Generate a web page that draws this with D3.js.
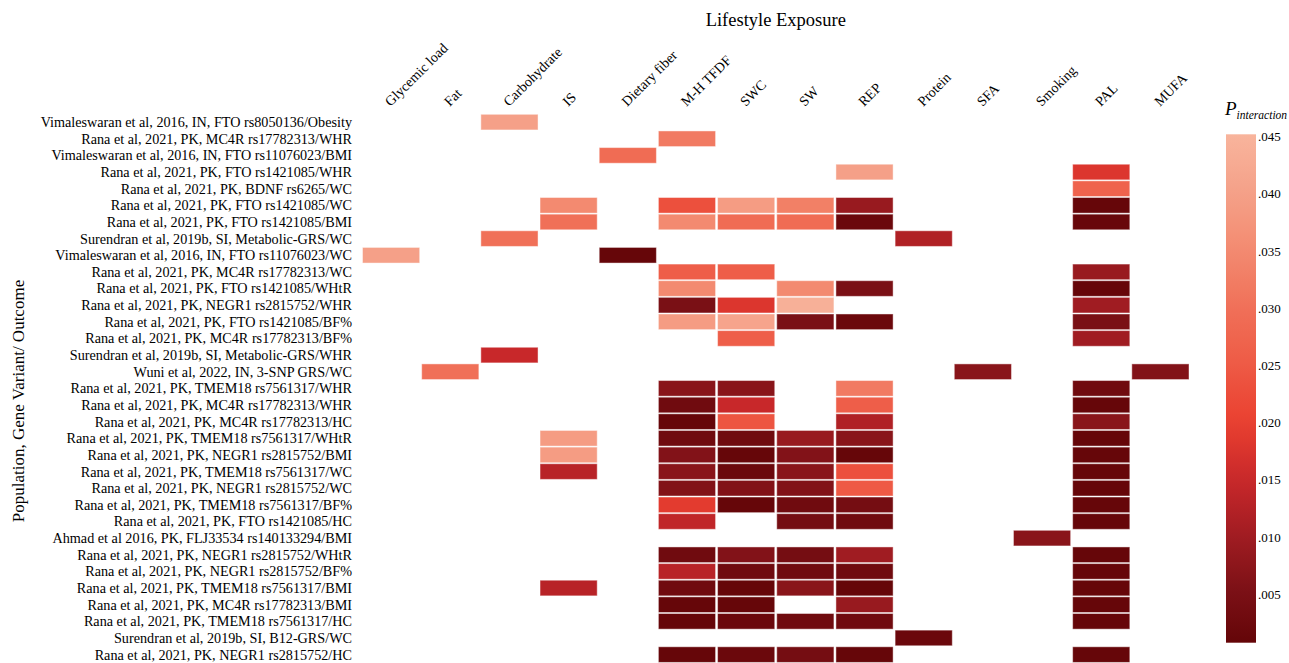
<!DOCTYPE html>
<html>
<head>
<meta charset="utf-8">
<script src="https://cdn.jsdelivr.net/npm/d3@7"></script>
<style>
  body { margin: 0; background: #fff; }
  svg { display: block; font-family: "Liberation Serif", "Times New Roman", serif; }
</style>
</head>
<body>
<svg id="chart" width="1289" height="663"></svg>
<script>
const _ = null;

const exposures = ["Glycemic load", "Fat", "Carbohydrate", "IS", "Dietary fiber", "M-H TFDF", "SWC",
  "SW", "REP", "Protein", "SFA", "Smoking", "PAL", "MUFA"];

const rowLabels = [
  "Vimaleswaran et al, 2016, IN, FTO rs8050136/Obesity",
  "Rana et al, 2021, PK, MC4R rs17782313/WHR",
  "Vimaleswaran et al, 2016, IN, FTO rs11076023/BMI",
  "Rana et al, 2021, PK, FTO rs1421085/WHR",
  "Rana et al, 2021, PK, BDNF rs6265/WC",
  "Rana et al, 2021, PK, FTO rs1421085/WC",
  "Rana et al, 2021, PK, FTO rs1421085/BMI",
  "Surendran et al, 2019b, SI, Metabolic-GRS/WC",
  "Vimaleswaran et al, 2016, IN, FTO rs11076023/WC",
  "Rana et al, 2021, PK, MC4R rs17782313/WC",
  "Rana et al, 2021, PK, FTO rs1421085/WHtR",
  "Rana et al, 2021, PK, NEGR1 rs2815752/WHR",
  "Rana et al, 2021, PK, FTO rs1421085/BF%",
  "Rana et al, 2021, PK, MC4R rs17782313/BF%",
  "Surendran et al, 2019b, SI, Metabolic-GRS/WHR",
  "Wuni et al, 2022, IN, 3-SNP GRS/WC",
  "Rana et al, 2021, PK, TMEM18 rs7561317/WHR",
  "Rana et al, 2021, PK, MC4R rs17782313/WHR",
  "Rana et al, 2021, PK, MC4R rs17782313/HC",
  "Rana et al, 2021, PK, TMEM18 rs7561317/WHtR",
  "Rana et al, 2021, PK, NEGR1 rs2815752/BMI",
  "Rana et al, 2021, PK, TMEM18 rs7561317/WC",
  "Rana et al, 2021, PK, NEGR1 rs2815752/WC",
  "Rana et al, 2021, PK, TMEM18 rs7561317/BF%",
  "Rana et al, 2021, PK, FTO rs1421085/HC",
  "Ahmad et al 2016, PK, FLJ33534 rs140133294/BMI",
  "Rana et al, 2021, PK, NEGR1 rs2815752/WHtR",
  "Rana et al, 2021, PK, NEGR1 rs2815752/BF%",
  "Rana et al, 2021, PK, TMEM18 rs7561317/BMI",
  "Rana et al, 2021, PK, MC4R rs17782313/BMI",
  "Rana et al, 2021, PK, TMEM18 rs7561317/HC",
  "Surendran et al, 2019b, SI, B12-GRS/WC",
  "Rana et al, 2021, PK, NEGR1 rs2815752/HC"
];

// P interaction per exposure column, one entry per row (null = not reported)
const glycemicLoad = [_,_,_,_,_,_,_,_,.040,_,_,  _,_,_,_,_,_,_,_,_,_,_,  _,_,_,_,_,_,_,_,_,_,_];
const fat          = [_,_,_,_,_,_,_,_,_,_,_,  _,_,_,_,.030,_,_,_,_,_,_,  _,_,_,_,_,_,_,_,_,_,_];
const carbohydrate = [.040,_,_,_,_,_,_,.030,_,_,_,  _,_,_,.015,_,_,_,_,_,_,_,  _,_,_,_,_,_,_,_,_,_,_];
const insulinSec   = [_,_,_,_,_,.035,.030,_,_,_,_,  _,_,_,_,_,_,_,_,.039,.039,.013,  _,_,_,_,_,_,.013,_,_,_,_];
const dietaryFiber = [_,_,.029,_,_,_,_,_,.001,_,_,  _,_,_,_,_,_,_,_,_,_,_,  _,_,_,_,_,_,_,_,_,_,_];
const mhTfdf       = [_,.032,_,_,_,.023,.035,_,_,.026,.035,  .005,.039,_,_,_,.007,.003,.001,.003,.006,.007,
                      .006,.019,.014,_,.003,.013,.003,.001,.001,_,.001];
const swc          = [_,_,_,_,_,.039,.029,_,_,.026,_,  .018,.041,.026,_,_,.007,.015,.024,.003,.001,.002,
                      .006,.001,_,_,.006,.003,.001,.001,.002,_,.002];
const sw           = [_,_,_,_,_,.033,.029,_,_,_,.035,  .044,.005,_,_,_,_,_,_,.009,.006,.007,
                      .006,.003,.004,_,.004,.003,.007,_,.003,_,.004];
const rep          = [_,_,_,.040,_,.009,.002,_,_,_,.005,  _,.002,_,_,_,.032,.026,.012,.007,.001,.023,
                      .025,.004,.003,_,.010,.003,.001,.009,.003,_,.001];
const protein      = [_,_,_,_,_,_,_,.012,_,_,_,  _,_,_,_,_,_,_,_,_,_,_,  _,_,_,_,_,_,_,_,_,.002,_];
const sfa          = [_,_,_,_,_,_,_,_,_,_,_,  _,_,_,_,.007,_,_,_,_,_,_,  _,_,_,_,_,_,_,_,_,_,_];
const smoking      = [_,_,_,_,_,_,_,_,_,_,_,  _,_,_,_,_,_,_,_,_,_,_,  _,_,_,.007,_,_,_,_,_,_,_];
const pal          = [_,_,_,.018,.027,.001,.0015,_,_,.009,.001,  .010,.005,.010,_,_,.003,.001,.007,.001,.001,.001,
                      .001,.001,.001,_,.001,.001,.001,.001,.001,_,.001];
const mufa         = [_,_,_,_,_,_,_,_,_,_,_,  _,_,_,_,.006,_,_,_,_,_,_,  _,_,_,_,_,_,_,_,_,_,_];

const columns = [glycemicLoad, fat, carbohydrate, insulinSec, dietaryFiber, mhTfdf, swc, sw, rep,
  protein, sfa, smoking, pal, mufa];

const legendTicks = [.045, .040, .035, .030, .025, .020, .015, .010, .005];

// flatten into cells
const cells = [];
columns.forEach((col, ci) => {
  col.forEach((p, ri) => {
    if (p != null) cells.push({ row: ri, col: exposures[ci], p: p });
  });
});

const svg = d3.select("#chart");

const x = d3.scaleBand()
  .domain(exposures)
  .range([361.5, 1190]);

const y = d3.scaleBand()
  .domain(d3.range(rowLabels.length))
  .range([113.8, 113.8 + rowLabels.length * 16.64]);

// colour ramp (light salmon -> dark red)
const color = d3.scaleLinear()
  .domain([.045, .040, .035, .030, .025, .020, .015, .010, .005, .0007])
  .range(["#f8b49c", "#f5a088", "#f38a70", "#f07058", "#ee5a45", "#ea4030", "#c8282a", "#a01c22", "#7a1015", "#640508"])
  .clamp(true);

// title
svg.append("text")
  .attr("x", (x.range()[0] + x.range()[1]) / 2)
  .attr("y", 26)
  .attr("text-anchor", "middle")
  .style("font-size", "18.5px")
  .text("Lifestyle Exposure");

svg.append("text")
  .attr("transform", "translate(24,401) rotate(-90)")
  .attr("text-anchor", "middle")
  .style("font-size", "17px")
  .text("Population, Gene Variant/ Outcome");

// column labels
svg.append("g")
  .selectAll("text")
  .data(exposures)
  .join("text")
    .attr("transform", d => `translate(${x(d) + x.bandwidth() / 2 - 0.5},107) rotate(-45)`)
    .style("font-size", "14px")
    .text(d => d);

// row labels
svg.append("g")
  .selectAll("text")
  .data(rowLabels)
  .join("text")
    .attr("x", 352)
    .attr("y", (d, i) => y(i) + y.bandwidth() / 2)
    .attr("dy", "0.35em")
    .attr("text-anchor", "end")
    .style("font-size", "14.2px")
    .text(d => d);

// heat cells
svg.append("g")
  .selectAll("rect")
  .data(cells)
  .join("rect")
    .attr("x", d => x(d.col) + 1)
    .attr("y", d => y(d.row) + 0.5)
    .attr("width", x.bandwidth() - 2)
    .attr("height", y.bandwidth() - 1)
    .attr("fill", d => color(d.p))
    .attr("stroke", "#fff")
    .attr("stroke-opacity", 0.45)
    .attr("stroke-width", 1);

// legend bar
const lg = d3.scaleLinear()
  .domain([.0452, .00075])
  .range([134.3, 642.7]);

const grad = svg.append("defs").append("linearGradient")
  .attr("id", "pgrad")
  .attr("x1", 0).attr("y1", 0).attr("x2", 0).attr("y2", 1);

d3.range(0, 1.0001, 0.05).forEach(t => {
  const v = lg.invert(134.3 + t * (642.7 - 134.3));
  grad.append("stop").attr("offset", t).attr("stop-color", color(v));
});

svg.append("rect")
  .attr("x", 1226)
  .attr("y", lg.range()[0])
  .attr("width", 30)
  .attr("height", lg.range()[1] - lg.range()[0])
  .attr("fill", "url(#pgrad)");

const legendAxis = svg.append("g")
  .attr("transform", "translate(1256,0)")
  .call(d3.axisRight(lg)
    .tickValues(legendTicks)
    .tickSize(0)
    .tickPadding(2)
    .tickFormat(d => d3.format(".3f")(d).replace(/^0/, "")));

legendAxis.select(".domain").remove();
legendAxis.selectAll("text")
  .style("font-family", "Liberation Serif, serif")
  .style("font-size", "13px")
  .attr("fill", "#000");

const ptitle = svg.append("text")
  .attr("x", 1225)
  .attr("y", 115)
  .style("font-style", "italic");
ptitle.append("tspan").style("font-size", "19px").text("P");
ptitle.append("tspan").attr("dy", 4).style("font-size", "11.5px").text("interaction");
</script>
</body>
</html>
